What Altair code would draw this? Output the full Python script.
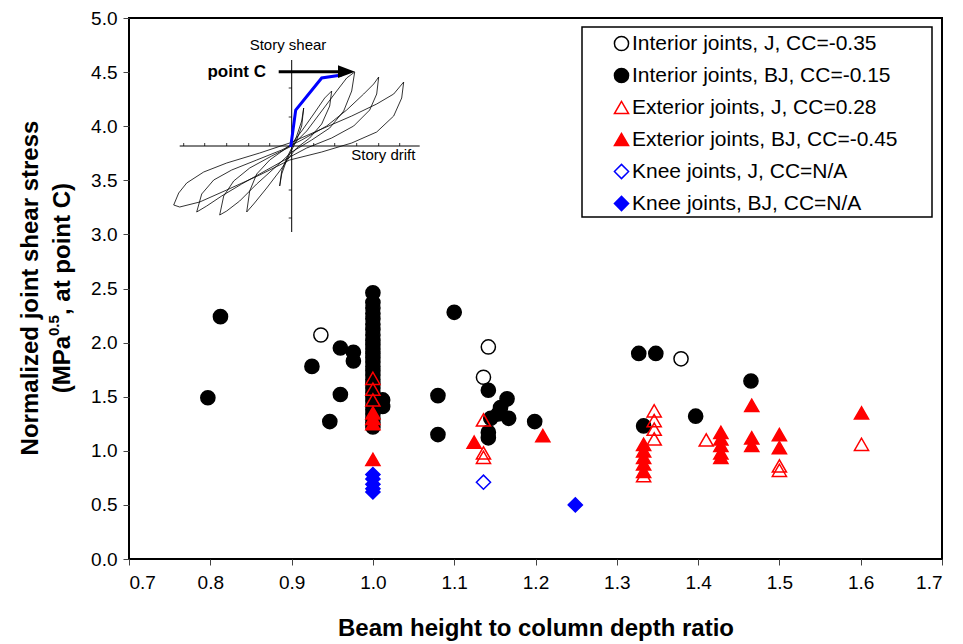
import altair as alt
import pandas as pd

# ---------------- data ----------------
series_names = [
    "Interior joints, J, CC=-0.35",
    "Interior joints, BJ, CC=-0.15",
    "Exterior joints, J, CC=0.28",
    "Exterior joints, BJ, CC=-0.45",
    "Knee joints, J, CC=N/A",
    "Knee joints, BJ, CC=N/A",
]
series_shapes = ["circle", "circle", "triangle-up", "triangle-up", "diamond", "diamond"]
series_strokes = ["black", "black", "red", "red", "blue", "blue"]
series_fills = ["transparent", "black", "transparent", "red", "transparent", "blue"]

int_j_x = [0.936, 1.142, 1.136, 1.379]
int_j_y = [2.07, 1.96, 1.68, 1.85]

int_bj_x = [0.8125, 0.797, 0.960, 0.976, 0.976, 0.925, 0.960, 0.947,
            1.0, 1.0, 1.0, 1.0, 1.0, 1.0, 1.0, 1.0, 1.0, 1.0, 1.0, 1.0, 1.0, 1.0, 1.0,
            1.0, 1.0, 1.0, 1.0, 1.0, 1.0, 1.0, 1.0, 1.0, 1.0, 1.0, 1.0, 1.0, 1.0,
            1.012, 1.012, 1.100, 1.142, 1.080, 1.165, 1.157, 1.167, 1.145, 1.154,
            1.199, 1.080, 1.142, 1.142, 1.327, 1.348, 1.397, 1.333, 1.465]
int_bj_y = [2.24, 1.49, 1.95, 1.91, 1.83, 1.78, 1.52, 1.27,
            2.46, 2.37, 2.32, 2.27, 2.22, 2.17, 2.12, 2.07, 2.02, 1.98, 1.94, 1.90, 1.86, 1.82, 1.78,
            1.74, 1.70, 1.66, 1.62, 1.58, 1.54, 1.50, 1.46, 1.42, 1.38, 1.34, 1.30, 1.26, 1.22,
            1.47, 1.41, 2.28, 1.56, 1.51, 1.48, 1.40, 1.30, 1.30, 1.34,
            1.27, 1.15, 1.17, 1.12, 1.90, 1.90, 1.32, 1.23, 1.645]

ext_j_x = [1.0, 1.0, 1.0, 1.136, 1.136, 1.136, 1.346, 1.346, 1.346, 1.346,
           1.333, 1.41, 1.5, 1.5, 1.601]
ext_j_y = [1.67, 1.57, 1.47, 1.285, 0.98, 0.94, 1.37, 1.28, 1.20, 1.11,
           0.77, 1.10, 0.86, 0.82, 1.06]

ext_bj_x = [1.0, 1.0, 1.0, 1.0, 1.1245, 1.209, 1.333, 1.333, 1.333, 1.333, 1.333,
            1.428, 1.428, 1.428, 1.428, 1.428, 1.466, 1.466, 1.466, 1.5, 1.5, 1.601]
ext_bj_y = [1.35, 1.30, 1.25, 0.92, 1.08, 1.14, 1.06, 1.00, 0.94, 0.88, 0.81,
            1.17, 1.11, 1.05, 0.98, 0.94, 1.42, 1.12, 1.05, 1.15, 1.03, 1.35]

knee_j_x = [1.136]
knee_j_y = [0.71]

knee_bj_x = [1.0, 1.0, 1.0, 1.0, 1.0, 1.249]
knee_bj_y = [0.78, 0.74, 0.69, 0.65, 0.62, 0.50]

x_ticks = [0.7, 0.8, 0.9, 1.0, 1.1, 1.2, 1.3, 1.4, 1.5, 1.6, 1.7]
y_ticks = [0.0, 0.5, 1.0, 1.5, 2.0, 2.5, 3.0, 3.5, 4.0, 4.5, 5.0]

# inset (hysteresis sketch), in local drift / shear units
loop_a_dx = [-118, -113, -105, -88, -65, -32, -2, 30, 60, 85, 102, 112, 110, 102, 85, 60, 30, -2, -32, -65, -92, -112, -118]
loop_a_dy = [-59, -47, -37, -26, -17, -7, 3, 17, 30, 42, 52, 64, 48, 30, 14, 3, -6, -14, -29, -44, -56, -61, -59]
loop_b_dx = [-95, -90, -78, -60, -35, -10, 10, 35, 55, 72, 82, 87, 85, 78, 62, 40, 15, 0, -25, -50, -70, -85, -95]
loop_b_dy = [-66, -48, -34, -24, -14, -4, 6, 20, 36, 52, 62, 69, 52, 36, 20, 8, -2, -10, -24, -38, -50, -60, -66]
loop_c_dx = [-72, -68, -58, -42, -20, 0, 15, 30, 45, 55, 63, 60, 52, 38, 20, 0, -15, -35, -52, -65, -72]
loop_c_dy = [-69, -50, -35, -22, -10, 0, 15, 35, 55, 68, 74, 55, 35, 18, 6, -6, -20, -38, -55, -65, -69]
loop_d_dx = [-45, -42, -35, -22, -8, 0, 10, 22, 33, 40, 38, 30, 18, 5, 0, -12, -25, -38, -45]
loop_d_dy = [-66, -45, -28, -14, -4, 2, 15, 32, 48, 55, 40, 22, 8, -2, -8, -25, -42, -58, -66]
loop_e_dx = [-12, -10, -5, 0, 5, 10, 12, 10, 5, 0, -5, -10, -12]
loop_e_dy = [-40, -25, -12, -2, 10, 25, 38, 20, 6, -4, -14, -28, -40]

envelope_dx = [-1, 4, 30, 50]
envelope_dy = [-1, 36, 68, 71]

h_tick_dx = [-108, -87, -65, -43, -22, 22, 43, 65, 87, 108]
v_tick_dy = [58, 29, -44, -72]

# ---------------- tables ----------------
rows = []
for name, xs, ys in zip(series_names,
                        [int_j_x, int_bj_x, ext_j_x, ext_bj_x, knee_j_x, knee_bj_x],
                        [int_j_y, int_bj_y, ext_j_y, ext_bj_y, knee_j_y, knee_bj_y]):
    for xv, yv in zip(xs, ys):
        rows.append({"series": name, "ratio": xv, "stress": yv})
df = pd.DataFrame(rows)

loop_rows = []
for lid, (dxs, dys) in enumerate([(loop_a_dx, loop_a_dy), (loop_b_dx, loop_b_dy),
                                   (loop_c_dx, loop_c_dy), (loop_d_dx, loop_d_dy),
                                   (loop_e_dx, loop_e_dy)]):
    for i, (a, b) in enumerate(zip(dxs, dys)):
        loop_rows.append({"loop": lid, "i": i, "dx": a, "dy": b})
loops_df = pd.DataFrame(loop_rows)
env_df = pd.DataFrame({"dx": envelope_dx, "dy": envelope_dy, "i": list(range(len(envelope_dx)))})

FONT = "Liberation Sans"
W, H = 813, 541

xs_in = alt.Scale(domain=[-162.7, 650.3], nice=False, zero=False)
ys_in = alt.Scale(domain=[-413, 128], nice=False, zero=False)

one = pd.DataFrame({"k": [0]})

# ---------------- inset ----------------
loops = alt.Chart(loops_df).mark_line(color="black", strokeWidth=0.8).encode(
    x=alt.X("dx:Q", scale=xs_in, axis=None),
    y=alt.Y("dy:Q", scale=ys_in, axis=None),
    detail="loop:N",
    order="i:Q",
)
axes_df = pd.DataFrame({"x1": [-112, 0], "x2": [128, 0], "y1": [0, 86], "y2": [0, -86]})
inset_axes = alt.Chart(axes_df).mark_rule(color="black", strokeWidth=1).encode(
    x=alt.X("x1:Q", scale=xs_in, axis=None), x2="x2:Q",
    y=alt.Y("y1:Q", scale=ys_in, axis=None), y2="y2:Q",
)
ht_df = pd.DataFrame({"dx": h_tick_dx, "y1": [0] * len(h_tick_dx), "y2": [3] * len(h_tick_dx)})
h_ticks = alt.Chart(ht_df).mark_rule(color="black", strokeWidth=0.8).encode(
    x=alt.X("dx:Q", scale=xs_in, axis=None),
    y=alt.Y("y1:Q", scale=ys_in, axis=None), y2="y2:Q",
)
vt_df = pd.DataFrame({"dy": v_tick_dy, "x1": [-3] * len(v_tick_dy), "x2": [0] * len(v_tick_dy)})
v_ticks = alt.Chart(vt_df).mark_rule(color="black", strokeWidth=0.8).encode(
    y=alt.Y("dy:Q", scale=ys_in, axis=None),
    x=alt.X("x1:Q", scale=xs_in, axis=None), x2="x2:Q",
)
envelope = alt.Chart(env_df).mark_line(color="blue", strokeWidth=3).encode(
    x=alt.X("dx:Q", scale=xs_in, axis=None),
    y=alt.Y("dy:Q", scale=ys_in, axis=None),
    order="i:Q",
)
arrow_df = pd.DataFrame({"x1": [-13], "x2": [50], "y1": [74.3]})
arrow_line = alt.Chart(arrow_df).mark_rule(color="black", strokeWidth=3).encode(
    x=alt.X("x1:Q", scale=xs_in, axis=None), x2="x2:Q",
    y=alt.Y("y1:Q", scale=ys_in, axis=None),
)
head_df = pd.DataFrame({"dx": [54.8], "dy": [74.3]})
arrow_head = alt.Chart(head_df).mark_point(
    shape="M-1,-0.75L1,0L-1,0.75Z", filled=True, color="black", size=289, opacity=1
).encode(
    x=alt.X("dx:Q", scale=xs_in, axis=None),
    y=alt.Y("dy:Q", scale=ys_in, axis=None),
)
inset_text_df = pd.DataFrame({
    "dx": [-3.7, 91.6], "dy": [101, -9], "t": ["Story shear", "Story drift"]})
inset_text = alt.Chart(inset_text_df).mark_text(
    font=FONT, fontSize=15, color="black", baseline="middle", align="center"
).encode(
    x=alt.X("dx:Q", scale=xs_in, axis=None),
    y=alt.Y("dy:Q", scale=ys_in, axis=None),
    text="t:N",
)
pc_df = pd.DataFrame({"dx": [-55], "dy": [74.3], "t": ["point C"]})
point_c = alt.Chart(pc_df).mark_text(
    font=FONT, fontSize=17, fontWeight="bold", color="black", baseline="middle", align="center"
).encode(
    x=alt.X("dx:Q", scale=xs_in, axis=None),
    y=alt.Y("dy:Q", scale=ys_in, axis=None),
    text="t:N",
)

# ---------------- main scatter ----------------
legend = alt.Legend(
    title=None, orient="none", legendX=482, legendY=15,
    labelFont=FONT, labelFontSize=21, labelColor="black",
    symbolSize=200, symbolStrokeWidth=1.5, rowPadding=10,
    labelOffset=0, padding=0, labelLimit=400, symbolOpacity=1,
)
scatter = alt.Chart(df).mark_point(strokeWidth=1.5, opacity=1, fillOpacity=1, size=200).encode(
    x=alt.X("ratio:Q", scale=alt.Scale(domain=[0.7, 1.7], nice=False, zero=False),
            axis=alt.Axis(values=x_ticks, format=".1f",
                          title="Beam height to column depth ratio",
                          titleFont=FONT, titleFontSize=24, titleFontWeight="bold",
                          titleColor="black", titlePadding=24,
                          labelPadding=8)),
    y=alt.Y("stress:Q", scale=alt.Scale(domain=[0, 5], nice=False, zero=False),
            axis=alt.Axis(values=y_ticks, format=".1f", title=None, labelPadding=6)),
    shape=alt.Shape("series:N", scale=alt.Scale(domain=series_names, range=series_shapes), legend=legend),
    stroke=alt.Stroke("series:N", scale=alt.Scale(domain=series_names, range=series_strokes), legend=legend),
    fill=alt.Fill("series:N", scale=alt.Scale(domain=series_names, range=series_fills), legend=legend),
)

legend_box = alt.Chart(one).mark_rect(fill="white", stroke="black", strokeWidth=1.5).encode(
    x=alt.value(453), x2=alt.value(803), y=alt.value(9), y2=alt.value(199)
)

# ---------------- y axis title (two lines with superscript) ----------------
def ytext(txt, xpix, ypix, size, align):
    return alt.Chart(one).mark_text(
        font=FONT, fontSize=size, fontWeight="bold", color="black",
        angle=270, align=align, baseline="middle"
    ).encode(x=alt.value(xpix), y=alt.value(ypix), text=alt.value(txt))

yt1 = ytext("Normalized joint shear stress", -98, 270, 24, "center")
yt2a = ytext("(MPa", -66, 318, 24, "right")
yt2b = ytext("0.5", -75, 318, 15, "left")
yt2c = ytext(", at point C)", -66, 297, 24, "left")

chart = alt.layer(
    loops, inset_axes, h_ticks, v_ticks, envelope, arrow_line, arrow_head, inset_text, point_c,
    legend_box, scatter, yt1, yt2a, yt2b, yt2c,
).resolve_scale(
    x="independent", y="independent"
).properties(
    width=W, height=H,
    background="white",
    padding={"left": 129, "top": 18, "right": 21, "bottom": 85},
    autosize=alt.AutoSizeParams(type="none"),
).configure_view(
    stroke="black", strokeWidth=2
).configure_axis(
    labelFont=FONT, labelFontSize=19, labelColor="black",
    tickColor="#444444", tickSize=6, tickWidth=1,
    domain=False, grid=False,
)

chart.save("out.html", embed_options={"renderer": "svg", "actions": False})
